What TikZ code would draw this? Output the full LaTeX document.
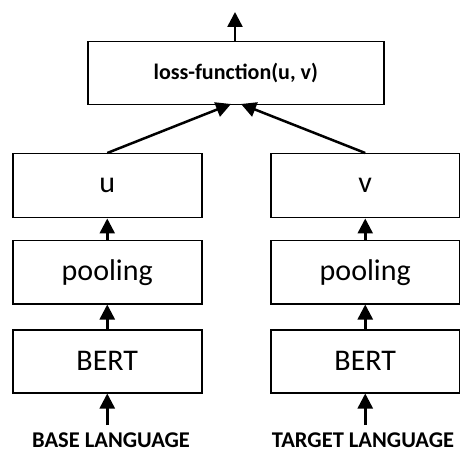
\documentclass[tikz,border=0pt]{standalone}
\usepackage{fontspec}
\setmainfont{Carlito}
\usetikzlibrary{arrows.meta}
\begin{document}
\begin{tikzpicture}[x=1pt,y=-1pt,
  box/.style={draw, line width=1.5pt, inner sep=0pt, anchor=north west},
  big/.style={font=\fontsize{30}{34}\selectfont},
  arr/.style={line width=2.5pt, -{Triangle[length=15pt,width=15pt]}},
  lbl/.style={font=\bfseries\fontsize{22.5}{26}\selectfont}]
\useasboundingbox (0,0) rectangle (460,454);
\node[box, minimum width=296pt, minimum height=63pt, font=\bfseries\fontsize{22}{26}\selectfont] (loss) at (87,41) {loss-function(u, v)};
\node[box, big, minimum width=189pt, minimum height=64pt] (u) at (12,153) {u};
\node[box, big, minimum width=189pt, minimum height=64pt] (v) at (270,153) {v};
\node[box, big, minimum width=189pt, minimum height=63pt] (pu) at (12,240) {pooling};
\node[box, big, minimum width=189pt, minimum height=63pt] (pv) at (270,240) {pooling};
\node[box, big, minimum width=189pt, minimum height=63pt] (bu) at (12,329) {BERT};
\node[box, big, minimum width=189pt, minimum height=63pt] (bv) at (270,329) {BERT};
\node[lbl] (base) at (111,440) {BASE LANGUAGE};
\node[lbl] (target) at (363,440) {TARGET LANGUAGE};
\coordinate (top) at (235,12);
\coordinate (lu) at (231,104);
\coordinate (lv) at (241,104);
\coordinate (inu) at (bu.south |- 0,425);
\coordinate (inv) at (bv.south |- 0,425);
\draw[arr] (loss.north -| top) -- (top);
\draw[arr] (u.north) -- (lu);
\draw[arr] (v.north) -- (lv);
\draw[arr] (pu.north) -- (u.south);
\draw[arr] (pv.north) -- (v.south);
\draw[arr] (bu.north) -- (pu.south);
\draw[arr] (bv.north) -- (pv.south);
\draw[arr] (inu) -- (bu.south);
\draw[arr] (inv) -- (bv.south);
\end{tikzpicture}
\end{document}
